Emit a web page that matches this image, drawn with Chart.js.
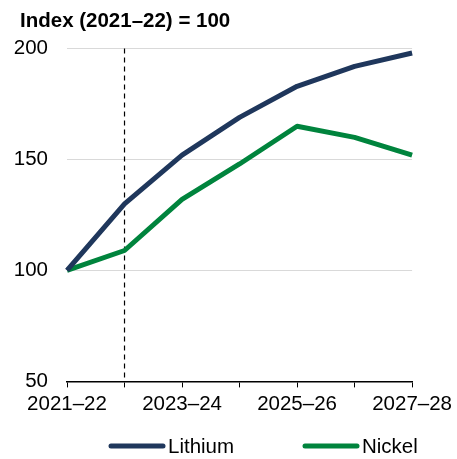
<!DOCTYPE html>
<html>
<head>
<meta charset="utf-8">
<script src="https://cdn.jsdelivr.net/npm/chart.js@4/dist/chart.umd.min.js"></script>
<style>
  html, body { margin: 0; padding: 0; background: #fff; }
  #wrap { width: 457px; height: 459px; }
</style>
</head>
<body>
<div id="wrap"><canvas id="chart"></canvas></div>
<script>
// Data
const years = ["2021–22", "2022–23", "2023–24", "2024–25", "2025–26", "2026–27", "2027–28"];
const lithium = [100, 130, 152, 169, 183, 192, 198];
const nickel = [100, 109, 132, 148, 165, 160, 152];
const yTicks = [50, 100, 150, 200];
const markerIndex = 1; // dashed line at 2022–23

const navy = "#1f375c";
const green = "#00843d";

Chart.defaults.font.family = "'Liberation Sans', Arial, sans-serif";
Chart.defaults.font.size = 20.5;
Chart.defaults.color = "#000";

// dashed vertical line
const markerLine = {
  id: "markerLine",
  beforeDatasetsDraw(chart) {
    const x = chart.scales.x.getPixelForValue(markerIndex);
    const area = chart.chartArea;
    const ctx = chart.ctx;
    ctx.save();
    ctx.strokeStyle = "#000";
    ctx.lineWidth = 1.2;
    ctx.setLineDash([5, 4]);
    ctx.beginPath();
    ctx.moveTo(x, area.top);
    ctx.lineTo(x, area.bottom);
    ctx.stroke();
    ctx.restore();
  }
};

// nudge the title to line up with the reference
const titleShift = {
  id: "titleShift",
  afterLayout(chart) {
    chart.titleBlock.left += 7;
    chart.titleBlock.right += 7;
  }
};

// simple legend under the axis
const lineLegend = {
  id: "lineLegend",
  afterDraw(chart) {
    const ctx = chart.ctx;
    const spots = [109, 303];
    const y = 446;
    ctx.save();
    chart.data.datasets.forEach((ds, i) => {
      const x = spots[i];
      ctx.strokeStyle = ds.borderColor;
      ctx.lineWidth = 5;
      ctx.lineCap = "round";
      ctx.beginPath();
      ctx.moveTo(x + 2, y);
      ctx.lineTo(x + 54, y);
      ctx.stroke();
      ctx.fillStyle = "#000";
      ctx.font = "20.5px 'Liberation Sans', Arial, sans-serif";
      ctx.textBaseline = "middle";
      ctx.fillText(ds.label, x + 59, y + 1);
    });
    ctx.restore();
  }
};

new Chart(document.getElementById("chart"), {
  type: "line",
  data: {
    labels: years,
    datasets: [
      { label: "Lithium", data: lithium, borderColor: navy, backgroundColor: navy },
      { label: "Nickel", data: nickel, borderColor: green, backgroundColor: green }
    ]
  },
  options: {
    responsive: true,
    maintainAspectRatio: false,
    animation: false,
    layout: { padding: { left: 13, right: 39, top: 0, bottom: 37 } },
    elements: {
      line: { borderWidth: 5, tension: 0, borderJoinStyle: "round" },
      point: { radius: 0 }
    },
    plugins: {
      legend: { display: false },
      tooltip: { enabled: false },
      title: {
        display: true,
        text: "Index (2021–22) = 100",
        align: "start",
        color: "#000",
        font: { size: 20.5, weight: "bold" },
        padding: { top: 9, bottom: 15 }
      }
    },
    scales: {
      x: {
        offset: false,
        grid: { drawOnChartArea: false, drawTicks: true, tickLength: 6, color: "#000" },
        border: { display: true, color: "#000", width: 1.5 },
        ticks: {
          autoSkip: false,
          maxRotation: 0,
          padding: 5,
          callback: (v, i) => (i % 2 === 0 ? years[i] : "")
        }
      },
      y: {
        min: 50,
        max: 200,
        afterFit: (s) => { s.width = 54; },
        afterBuildTicks: (s) => { s.ticks = yTicks.map(v => ({ value: v })); },
        grid: {
          drawTicks: false,
          color: (c) => (c.tick && c.tick.value === 50 ? "rgba(0,0,0,0)" : "#d9d9d9")
        },
        border: { display: false },
        ticks: { padding: 19 }
      }
    }
  },
  plugins: [markerLine, titleShift, lineLegend]
});
</script>
</body>
</html>
